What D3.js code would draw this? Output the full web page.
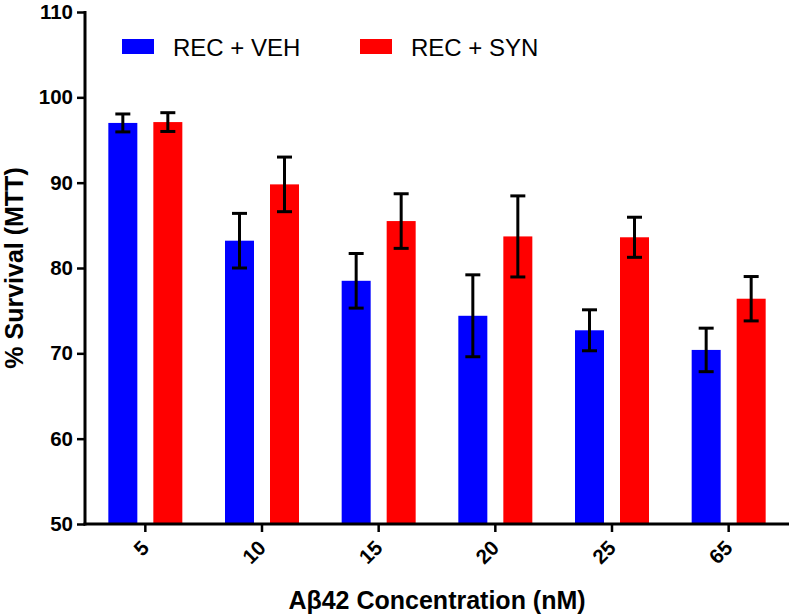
<!DOCTYPE html>
<html>
<head>
<meta charset="utf-8">
<script src="https://cdn.jsdelivr.net/npm/d3@7"></script>
<style>
  html, body { margin: 0; padding: 0; background: #fff; }
  svg { display: block; font-family: "Liberation Sans", Arial, Helvetica, sans-serif; }
</style>
</head>
<body>
<svg id="chart" width="792" height="616"></svg>
<script>
// ---- data ----
const categories = ["5", "10", "15", "20", "25", "65"];
const seriesNames = ["REC + VEH", "REC + SYN"];
const vehMeans = [97.0, 83.2, 78.5, 74.4, 72.7, 70.4];
const vehErr   = [1.05, 3.2, 3.2, 4.8, 2.4, 2.55];
const synMeans = [97.1, 89.8, 85.5, 83.7, 83.6, 76.4];
const synErr   = [1.1, 3.2, 3.2, 4.75, 2.35, 2.6];
const yTicks = [50, 60, 70, 80, 90, 100, 110];
const colors = ["#0000FF", "#FF0000"];

const data = categories.map((c, i) => ({
  cat: c,
  values: [
    { s: seriesNames[0], v: vehMeans[i], e: vehErr[i] },
    { s: seriesNames[1], v: synMeans[i], e: synErr[i] }
  ]
}));

const svg = d3.select("#chart");
const axisX = 85, plotTop = 12, plotBottom = 524;

const y = d3.scaleLinear().domain([50, 110]).range([plotBottom, plotTop]);
const x0 = d3.scaleBand().domain(categories).range([87, 787]).padding(0);
const half = 37;
const x1 = d3.scaleBand().domain(seriesNames)
  .range([x0.bandwidth() / 2 - half, x0.bandwidth() / 2 + half])
  .paddingInner(0.3556).paddingOuter(0);
const color = d3.scaleOrdinal().domain(seriesNames).range(colors);

// bars
const groups = svg.append("g").selectAll("g").data(data).join("g")
  .attr("transform", d => `translate(${x0(d.cat)},0)`);

groups.selectAll("rect").data(d => d.values).join("rect")
  .attr("x", d => x1(d.s))
  .attr("width", x1.bandwidth())
  .attr("y", d => y(d.v))
  .attr("height", d => y(50) - y(d.v))
  .attr("fill", d => color(d.s));

// error bars
const capHalf = 7.5;
const eb = groups.selectAll("g.err").data(d => d.values).join("g").attr("class", "err")
  .attr("stroke", "#000").attr("stroke-width", 3).attr("fill", "none");
eb.append("line")
  .attr("x1", d => x1(d.s) + x1.bandwidth() / 2)
  .attr("x2", d => x1(d.s) + x1.bandwidth() / 2)
  .attr("y1", d => y(d.v + d.e)).attr("y2", d => y(d.v - d.e));
eb.append("line")
  .attr("x1", d => x1(d.s) + x1.bandwidth() / 2 - capHalf)
  .attr("x2", d => x1(d.s) + x1.bandwidth() / 2 + capHalf)
  .attr("y1", d => y(d.v + d.e)).attr("y2", d => y(d.v + d.e));
eb.append("line")
  .attr("x1", d => x1(d.s) + x1.bandwidth() / 2 - capHalf)
  .attr("x2", d => x1(d.s) + x1.bandwidth() / 2 + capHalf)
  .attr("y1", d => y(d.v - d.e)).attr("y2", d => y(d.v - d.e));

// y axis
const yAxis = svg.append("g").attr("transform", `translate(${axisX},0)`)
  .call(d3.axisLeft(y).tickValues(yTicks).tickSize(8).tickPadding(4).tickSizeOuter(0));
yAxis.select(".domain").attr("stroke", "#000").attr("stroke-width", 3)
  .attr("d", `M0,${plotTop - 1}V${plotBottom + 1.5}`);
yAxis.selectAll(".tick line").attr("stroke", "#000").attr("stroke-width", 2.5);
yAxis.selectAll(".tick text").attr("fill", "#000")
  .style("font-size", "20.5px").style("font-weight", "bold")
  .style("font-family", "'Liberation Sans', Arial, sans-serif");

// x axis
const xAxis = svg.append("g").attr("transform", `translate(0,${plotBottom})`)
  .call(d3.axisBottom(x0).tickSize(8).tickSizeOuter(0));
xAxis.select(".domain").attr("stroke", "#000").attr("stroke-width", 3)
  .attr("d", `M${axisX - 1.5},0H789`);
xAxis.selectAll(".tick line").attr("stroke", "#000").attr("stroke-width", 2.5);
xAxis.selectAll(".tick text").attr("fill", "#000")
  .style("font-size", "20.5px").style("font-weight", "bold")
  .style("font-family", "'Liberation Sans', Arial, sans-serif")
  .attr("text-anchor", "end")
  .attr("x", 0).attr("y", 20).attr("dy", "0.35em")
  .attr("transform", "rotate(-45 0 20)");

// axis titles
svg.append("text")
  .attr("x", 437).attr("y", 609)
  .attr("text-anchor", "middle")
  .style("font-size", "25px").style("font-weight", "bold").attr("fill", "#000")
  .text("Aβ42 Concentration (nM)");

svg.append("text")
  .attr("transform", `translate(23,${(plotTop + plotBottom) / 2}) rotate(-90)`)
  .attr("text-anchor", "middle")
  .style("font-size", "25px").style("font-weight", "bold").attr("fill", "#000")
  .text("% Survival (MTT)");

// legend
const legendX = [122, 360];
const legend = svg.append("g").selectAll("g").data(seriesNames).join("g")
  .attr("transform", (d, i) => `translate(${legendX[i]},39)`);
legend.append("rect").attr("width", 32).attr("height", 15).attr("fill", d => color(d));
legend.append("text").attr("x", 51).attr("y", 16.5)
  .style("font-size", "24px").attr("fill", "#000").text(d => d);
</script>
</body>
</html>
